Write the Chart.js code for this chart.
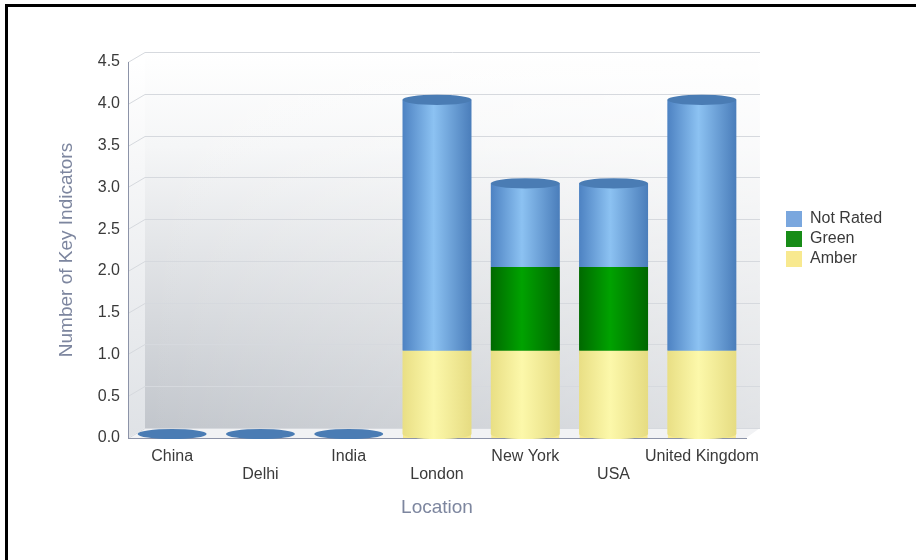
<!DOCTYPE html>
<html>
<head>
<meta charset="utf-8">
<script src="https://cdn.jsdelivr.net/npm/chart.js@4.4.1/dist/chart.umd.min.js"></script>
<style>
  body { margin: 0; background: #fff; }
  #wrap { position: relative; width: 916px; height: 560px; overflow: hidden; }
  #wrap canvas { position: absolute; left: 0; top: 0; }
  #frame { position: absolute; left: 5px; top: 4px; right: -10px; bottom: -10px;
           border-left: 3px solid #000; border-top: 3px solid #000; pointer-events: none; }
</style>
</head>
<body>
<div id="wrap">
  <canvas id="kiChart" width="916" height="560"></canvas>
  <div id="frame"></div>
</div>
<script>
const locations = ['China', 'Delhi', 'India', 'London', 'New York', 'USA', 'United Kingdom'];
const amber = [0, 0, 0, 1, 1, 1, 1];
const green = [0, 0, 0, 0, 1, 1, 0];
const notRated = [0, 0, 0, 3, 1, 1, 3];

// every second label sits on a second line, like the original
const xLabels = locations.map((name, i) => i % 2 ? ['', name] : name);

Chart.defaults.font.family = "'Liberation Sans', Arial, sans-serif";

// fake depth of the 3D box
const wallDx = 17, wallDy = 10, lift = 4;

const wallPlugin = {
    id: 'wall',
    beforeDraw(chart) {
        const { ctx, chartArea: a, scales: { y } } = chart;
        const bl = a.left + wallDx, br = a.right + 14, bt = a.top - wallDy, bb = a.bottom - wallDy;
        ctx.save();
        // back wall
        let g = ctx.createLinearGradient(0, bt, 0, bb);
        g.addColorStop(0, '#ffffff');
        g.addColorStop(0.25, '#f5f6f7');
        g.addColorStop(1, '#c2c6cc');
        ctx.fillStyle = g;
        ctx.fillRect(bl, bt, br - bl, bb - bt);
        g = ctx.createLinearGradient(bl, 0, br, 0);
        g.addColorStop(0, 'rgba(255,255,255,0)');
        g.addColorStop(1, 'rgba(255,255,255,0.5)');
        ctx.fillStyle = g;
        ctx.fillRect(bl, bt, br - bl, bb - bt);
        // side wall
        g = ctx.createLinearGradient(0, a.top, 0, a.bottom);
        g.addColorStop(0, '#ffffff');
        g.addColorStop(1, '#dfe2e6');
        ctx.fillStyle = g;
        ctx.beginPath();
        ctx.moveTo(a.left, a.top);
        ctx.lineTo(bl, bt);
        ctx.lineTo(bl, bb);
        ctx.lineTo(a.left, a.bottom);
        ctx.closePath();
        ctx.fill();
        // floor
        ctx.fillStyle = '#f1f2f4';
        ctx.beginPath();
        ctx.moveTo(a.left, a.bottom);
        ctx.lineTo(bl, bb);
        ctx.lineTo(br, bb);
        ctx.lineTo(a.right, a.bottom);
        ctx.closePath();
        ctx.fill();
        // grid lines on side and back wall
        ctx.strokeStyle = '#d6d9de';
        ctx.lineWidth = 1;
        y.ticks.forEach(t => {
            const py = Math.round(y.getPixelForValue(t.value)) + 0.5;
            ctx.beginPath();
            ctx.moveTo(a.left, py);
            ctx.lineTo(bl, py - wallDy);
            ctx.lineTo(br, py - wallDy);
            ctx.stroke();
        });
        ctx.restore();
    }
};

// draws the stacked bars as cylinders
const cylinderPlugin = {
    id: 'cylinders',
    afterDatasetsDraw(chart) {
        const ctx = chart.ctx;
        const metas = chart.getSortedVisibleDatasetMetas();
        const topSeries = chart.data.datasets[metas[metas.length - 1].index];
        ctx.save();
        locations.forEach((loc, i) => {
            let top = null;
            let lowest = true;
            metas.forEach(meta => {
                const ds = chart.data.datasets[meta.index];
                const p = meta.data[i].getProps(['x', 'y', 'base', 'width'], true);
                const y0 = p.y - lift, b0 = p.base - lift;
                const ry = p.width * 0.075;
                if (b0 - y0 < 0.5) {
                    // empty location: a flat disc in the top series colour
                    if (lowest) top = { x: p.x, y: b0, w: p.width, ry: ry, color: topSeries.shade[3] };
                    return;
                }
                const l = p.x - p.width / 2, r = p.x + p.width / 2;
                const g = ctx.createLinearGradient(l, 0, r, 0);
                g.addColorStop(0, ds.shade[0]);
                g.addColorStop(0.45, ds.shade[1]);
                g.addColorStop(1, ds.shade[2]);
                ctx.fillStyle = g;
                ctx.beginPath();
                ctx.moveTo(l - 0.5, y0);
                ctx.lineTo(l - 0.5, b0);
                if (lowest) ctx.ellipse(p.x, b0, p.width / 2 + 0.5, ry, 0, Math.PI, 0, true);
                else ctx.lineTo(r + 0.5, b0);
                ctx.lineTo(r + 0.5, y0);
                ctx.closePath();
                ctx.fill();
                lowest = false;
                top = { x: p.x, y: y0, w: p.width, ry: ry, color: ds.shade[3] };
            });
            if (top) {
                ctx.fillStyle = top.color;
                ctx.beginPath();
                ctx.ellipse(top.x, top.y, top.w / 2 + 0.5, top.ry, 0, 0, Math.PI * 2);
                ctx.fill();
            }
        });
        ctx.restore();
    }
};

// put the legend where the original has it
const legendPlacePlugin = {
    id: 'legendPlace',
    afterLayout(chart) {
        const lg = chart.legend;
        const dx = 782 - lg.left, dy = 207 - lg.top;
        lg.left += dx; lg.right += dx;
        lg.top += dy; lg.bottom += dy;
    }
};

const ctx = document.getElementById('kiChart').getContext('2d');
new Chart(ctx, {
    type: 'bar',
    data: {
        labels: xLabels,
        datasets: [
            { label: 'Amber', data: amber, backgroundColor: '#f8e98f',
              shade: ['#e9df85', '#fcf8aa', '#e6dc82', '#efe69a'] },
            { label: 'Green', data: green, backgroundColor: '#178c17',
              shade: ['#006a00', '#00a200', '#006800', '#007a00'] },
            { label: 'Not Rated', data: notRated, backgroundColor: '#7aa7de',
              shade: ['#4e83c3', '#8cc2f2', '#4b7ebb', '#4a7cb4'] }
        ]
    },
    options: {
        responsive: false,
        animation: false,
        events: [],
        layout: { padding: { top: 62, left: 0, right: 170, bottom: 0 } },
        datasets: { bar: { categoryPercentage: 1, barPercentage: 0.77, borderWidth: 0 } },
        plugins: {
            legend: {
                position: 'chartArea',
                align: 'start',
                reverse: true,
                labels: {
                    boxWidth: 16, boxHeight: 16, padding: 4,
                    color: '#3a3a3a',
                    font: { size: 16 }
                }
            },
            tooltip: { enabled: false }
        },
        scales: {
            x: {
                stacked: true,
                grid: { display: false, drawTicks: false },
                border: { display: true, color: '#8c93a8', width: 1 },
                ticks: {
                    autoSkip: false, maxRotation: 0, padding: 9,
                    color: '#3a3a3a',
                    font: { size: 16, lineHeight: 1.15 }
                },
                title: {
                    display: true, text: 'Location', color: '#7d869f',
                    font: { size: 19 }, padding: { top: 4, bottom: 41 }
                },
                afterFit(s) { s.height = 122; }
            },
            y: {
                stacked: true,
                min: 0, max: 4.5,
                grid: { display: false, drawTicks: false },
                border: { display: true, color: '#8c93a8', width: 1 },
                ticks: {
                    stepSize: 0.5, padding: 8,
                    color: '#3a3a3a',
                    font: { size: 16 },
                    callback: v => v.toFixed(1)
                },
                title: {
                    display: true, text: 'Number of Key Indicators', color: '#7d869f',
                    font: { size: 19 }, padding: { top: 55, bottom: 0 }
                },
                afterFit(s) { s.width = 128; }
            }
        }
    },
    plugins: [wallPlugin, cylinderPlugin, legendPlacePlugin]
});
</script>
</body>
</html>
